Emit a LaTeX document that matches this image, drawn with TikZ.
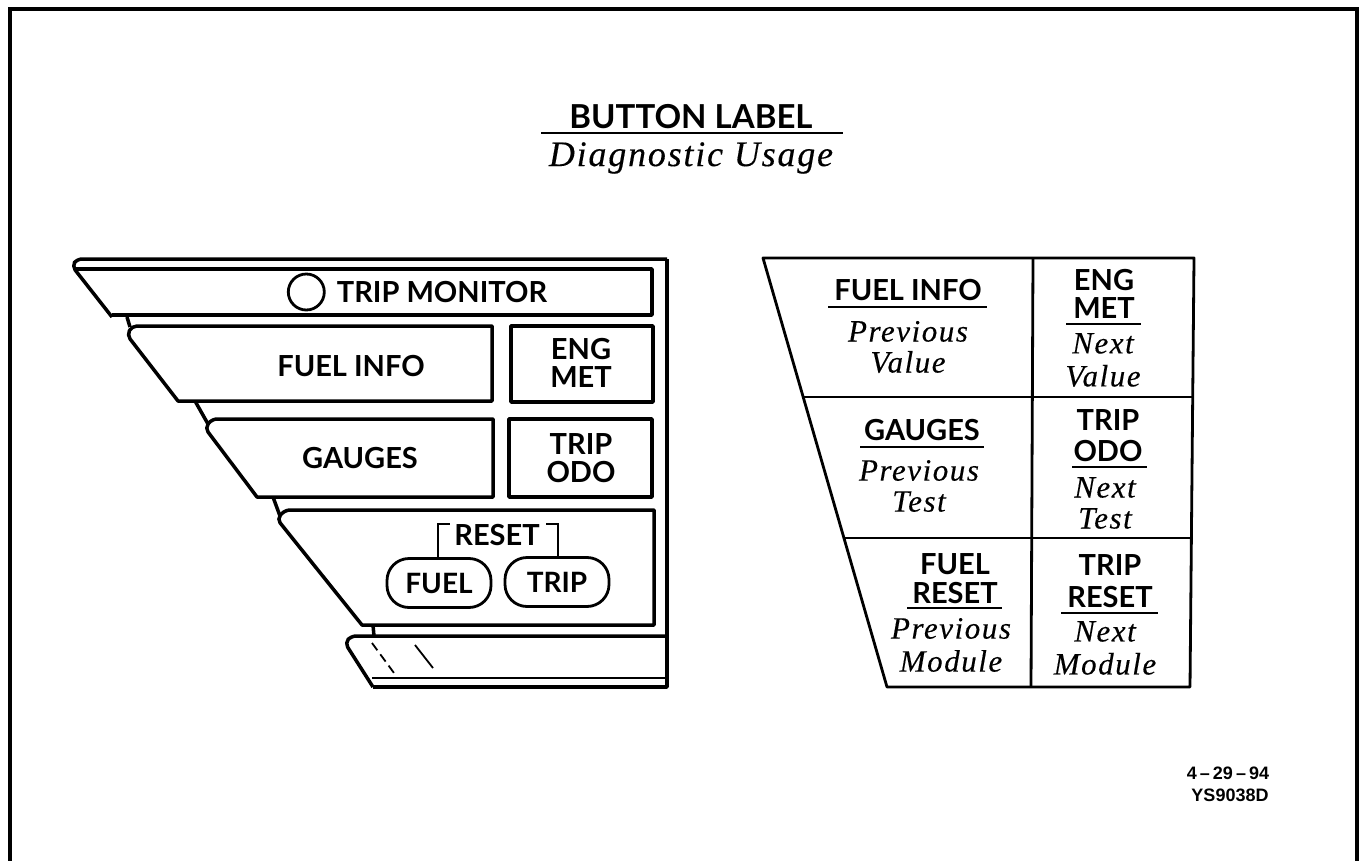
\documentclass[tikz,border=0pt]{standalone}
\usepackage{fontspec}
\usepackage{tikz}
\usetikzlibrary{positioning}
\newfontfamily\keyfont[BoldFont={Lato Bold}]{Lato}
\newfontfamily\usagefont[ItalicFont={Liberation Serif Italic},ItalicFeatures={LetterSpace=5,FakeBold=0.25}]{Liberation Serif}
\newfontfamily\stampfont{Liberation Sans}
\tikzset{
 x=1pt,y=-1pt,
 panel/.style={line width=3.5pt,line join=round,draw=black},
 thinpanel/.style={line width=2.8pt,line join=round,draw=black},
 thinrule/.style={line width=2.4pt,draw=black},
 btn/.style={font=\keyfont\bfseries\fontsize{29}{28}\selectfont,align=center,inner sep=0pt,text=black},
 use/.style={font=\usagefont\itshape\fontsize{31}{31}\selectfont,align=center,inner sep=0pt,text=black},
 pill/.style={draw=black,line width=2.8pt,rounded corners=22pt,minimum width=104pt,minimum height=49pt,inner sep=0pt,
   font=\keyfont\bfseries\fontsize{28}{28}\selectfont},
 stamp/.style={font=\stampfont\bfseries\fontsize{18}{18}\selectfont,inner sep=0pt}
}
\begin{document}
\begin{tikzpicture}
 \useasboundingbox (0,0) rectangle (1364,861);
 % frame, open at the bottom
 \draw[line width=3.4pt] (10,861) -- (10,9) -- (1357,9) -- (1357,861);
 % title
 \node[btn,font=\keyfont\bfseries\fontsize{33}{34}\selectfont] (title) at (691,117) {BUTTON LABEL};
 \node[use,font=\usagefont\itshape\fontsize{36}{36}\selectfont] (subtitle) at (691,158) {Diagnostic Usage};
 \draw[thinrule] (541,133) -- (843,133);
 % instrument panel
 \draw[panel,rounded corners=5pt] (667,259) -- (77,259) -- (72,266) [sharp corners] -- (112,317);
 \draw[panel] (667,259) -- (667,687) -- (373,687);
 \draw[panel] (76,269) -- (652,269) -- (652,315) -- (112,315);
 \node[btn] (tripmon) at (442,292) {TRIP MONITOR};
 \node[draw=black,line width=2.8pt,circle,minimum size=36pt,inner sep=0pt,left=11pt of tripmon.west] (lamp) {};
 \draw[panel] (492,326) [rounded corners=5pt] -- (132,326) -- (127,335) [sharp corners] -- (178,401) -- (492,401) -- cycle;
 \draw[panel] (127,317) -- (130,327);
 \node[btn] (fuelinfo) at (351,366) {FUEL INFO};
 \draw[panel] (511,326) rectangle (653,402);
 \node[btn] (engmet) at (581,363) {ENG\\MET};
 \draw[panel] (493,419) [rounded corners=5pt] -- (212,419) -- (205,428) [sharp corners] -- (257,497) -- (493,497) -- cycle;
 \draw[panel] (195,401) -- (208,424);
 \node[btn] (gauges) at (360,458) {GAUGES};
 \draw[panel] (509,419) rectangle (652,497);
 \node[btn] (tripodo) at (581,458) {TRIP\\ODO};
 \draw[panel] (654,510) [rounded corners=5pt] -- (285,510) -- (277,519) [sharp corners] -- (362,625) -- (654,625) -- cycle;
 \draw[panel] (273,497) -- (280,516);
 \node[btn] (reset) at (497,535) {RESET};
 \node[pill] (fuel) at (439,583) {FUEL};
 \node[pill] (trip) at (557,582) {TRIP};
 \draw[thinrule] (fuel.north) ++(-1,0) -- ++(0,-33) -- ++(12,0);
 \draw[thinrule] (trip.north) ++(1,0) -- ++(0,-32) -- ++(-12,0);
 \draw[panel] (667,636) [rounded corners=5pt] -- (351,636) -- (345,643) [sharp corners] -- (373,687);
 \draw[panel] (373,625) -- (374,636);
 \draw[line width=1.6pt] (372,678) -- (665,678);
 \draw[line width=1.8pt,dash pattern=on 9pt off 5pt] (372,643) -- (394,673);
 \draw[line width=1.8pt] (415,645) -- (433,668);
 % button table
 \draw[thinpanel] (763,258) -- (1194,258) -- (1190,687) -- (887,687) -- cycle;
 \draw[thinpanel] (1033,258) -- (1031,687);
 \draw[thinpanel] (803,397) -- (1192,397);
 \draw[thinpanel] (845,538) -- (1191,538);
 % cells, left column
 \node[btn] (lbla) at (908,290) {FUEL INFO};
 \draw[thinrule] (828,307) -- (987,307);
 \node[use] (usea) at (908,347) {Previous\\Value};
 \node[btn] (lblb) at (922,430) {GAUGES};
 \draw[thinrule] (860,447) -- (984,447);
 \node[use] (useb) at (919,486) {Previous\\Test};
 \node[btn,font=\keyfont\bfseries\fontsize{29}{29}\selectfont] (lblc) at (955,579) {FUEL\\RESET};
 \draw[thinrule] (907,608) -- (1002,608);
 \node[use,font=\usagefont\itshape\fontsize{31}{33}\selectfont] (usec) at (951,645) {Previous\\Module};
 % cells, right column
 \node[btn] (lbld) at (1104,294) {ENG\\MET};
 \draw[thinrule] (1066,324) -- (1141,324);
 \node[use,font=\usagefont\itshape\fontsize{31}{33}\selectfont] (used) at (1103,360) {Next\\Value};
 \node[btn,font=\keyfont\bfseries\fontsize{29}{31}\selectfont] (lble) at (1108,436) {TRIP\\ODO};
 \draw[thinrule] (1072,467) -- (1147,467);
 \node[use] (usee) at (1105,503) {Next\\Test};
 \node[btn,font=\keyfont\bfseries\fontsize{29}{32}\selectfont] (lblf) at (1110,581) {TRIP\\RESET};
 \draw[thinrule] (1061,613) -- (1158,613);
 \node[use,font=\usagefont\itshape\fontsize{31}{33}\selectfont] (usef) at (1105,648) {Next\\Module};
 % date stamp
 \node[stamp] (date) at (1228,773) {4\,–\,29\,–\,94};
 \node[stamp] (code) at (1230,795) {YS9038D};
\end{tikzpicture}
\end{document}
